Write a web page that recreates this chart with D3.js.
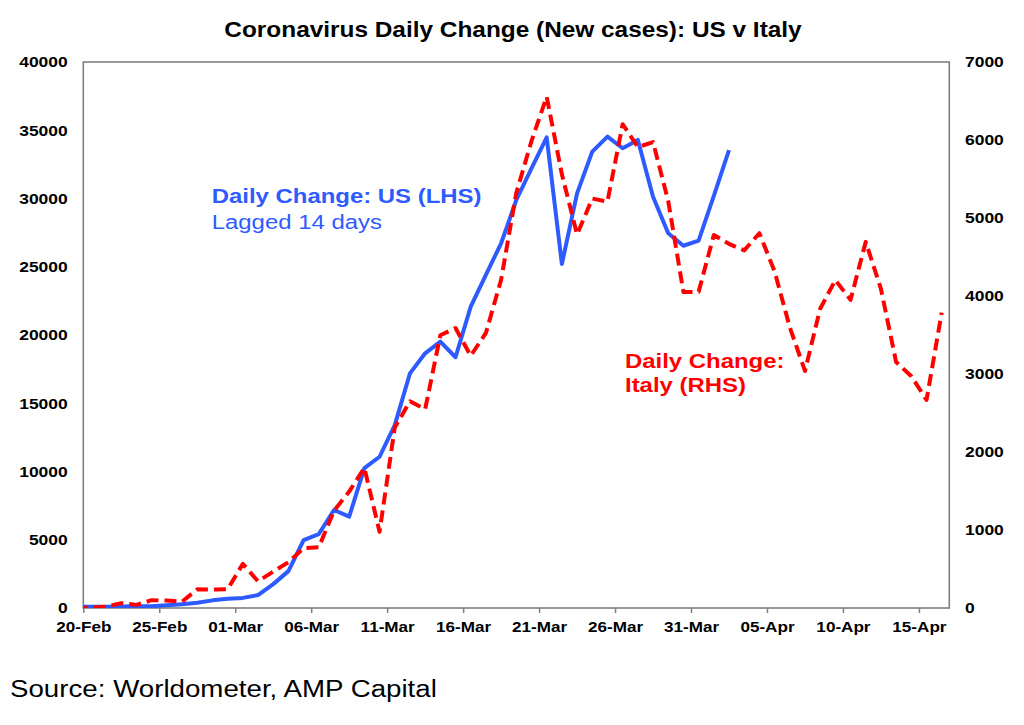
<!DOCTYPE html>
<html>
<head>
<meta charset="utf-8">
<script src="https://cdn.jsdelivr.net/npm/d3@7"></script>
<style>
  html, body { margin: 0; padding: 0; background: #fff; }
  svg { display: block; font-family: "Liberation Sans", Arial, sans-serif; }
</style>
</head>
<body>
<svg id="chart" width="1024" height="725"></svg>
<script>
// ---------------- DATA ----------------
// Daily series start one day before the visible window (clipped by plot area)
const seriesStart = "2020-02-19";
// Italy daily new cases (right axis), 19-Feb .. 16-Apr
const italyValues = [0, 3, 17, 62, 40, 100, 95, 80, 240, 238, 240,
  566, 342, 466, 587, 769, 778, 1247, 1492, 1797, 977,
  2313, 2651, 2547, 3497, 3590, 3233, 3526, 4207, 5322, 5986,
  6557, 5560, 4789, 5249, 5210, 6203, 5909, 5974, 5217, 4050, 4053,
  4782, 4668, 4585, 4805, 4316, 3599, 3039, 3836, 4204, 3951,
  4694, 4092, 3153, 2972, 2667, 3786];
// US daily new cases lagged 14 days (left axis), plotted 19-Feb .. 02-Apr
const usValues = [80, 90, 100, 110, 120, 130, 200, 280, 380, 560, 680,
  740, 950, 1750, 2700, 4980, 5420, 7180, 6690, 10250, 11080,
  13400, 17190, 18660, 19510, 18370, 22080, 24400, 26720, 29890, 32200,
  34480, 25200, 30380, 33430, 34530, 33680, 34290, 30130, 27450, 26540,
  26910, 30200, 33550];
const xDomain = ["2020-02-20", "2020-04-17"];
const xTickDates = ["2020-02-20", "2020-02-25", "2020-03-01", "2020-03-06", "2020-03-11",
  "2020-03-16", "2020-03-21", "2020-03-26", "2020-03-31", "2020-04-05", "2020-04-10", "2020-04-15"];
const xTickLabels = ["20-Feb", "25-Feb", "01-Mar", "06-Mar", "11-Mar", "16-Mar",
  "21-Mar", "26-Mar", "31-Mar", "05-Apr", "10-Apr", "15-Apr"];
const leftTicks = [0, 5000, 10000, 15000, 20000, 25000, 30000, 35000, 40000];
const rightTicks = [0, 1000, 2000, 3000, 4000, 5000, 6000, 7000];
const titleText = "Coronavirus Daily Change (New cases): US v Italy";
const usLabel = ["Daily Change: US (LHS)", "Lagged 14 days"];
const italyLabel = ["Daily Change:", "Italy (RHS)"];
const sourceText = "Source: Worldometer, AMP Capital";

// ---------------- LAYOUT ----------------
const SX = 1.14; // horizontal text stretch of the original picture
const plot = { left: 83.3, right: 949.3, top: 62, bottom: 608 };
const BLUE = "#2D5BFF", RED = "#FF0000", GREY = "#7f7f7f";

const svg = d3.select("#chart");
const parse = d3.utcParse("%Y-%m-%d");

const x = d3.scaleUtc().domain(xDomain.map(parse)).range([plot.left, plot.right]);
const yL = d3.scaleLinear().domain([0, 40000]).range([plot.bottom, plot.top]);
const yR = d3.scaleLinear().domain([0, 7000]).range([plot.bottom, plot.top]);

const start = parse(seriesStart);
// each daily value is plotted at the middle (noon) of its day
const pointDate = i => d3.utcHour.offset(d3.utcDay.offset(start, i), 12);

svg.append("defs").append("clipPath").attr("id", "plotClip")
  .append("rect")
  .attr("x", plot.left).attr("y", plot.top - 10)
  .attr("width", plot.right - plot.left).attr("height", plot.bottom - plot.top + 10);

// plot border
svg.append("rect")
  .attr("x", plot.left).attr("y", plot.top)
  .attr("width", plot.right - plot.left).attr("height", plot.bottom - plot.top)
  .attr("fill", "none").attr("stroke", GREY).attr("stroke-width", 1.6);

// bottom axis
const xAxis = d3.axisBottom(x)
  .tickValues(xTickDates.map(parse))
  .tickFormat((d, i) => xTickLabels[i])
  .tickSizeInner(5).tickSizeOuter(0).tickPadding(8);
const gx = svg.append("g").attr("transform", `translate(0,${plot.bottom})`).call(xAxis);
gx.select(".domain").remove();
gx.selectAll(".tick line").attr("stroke", GREY).attr("stroke-width", 1.5);
gx.selectAll(".tick text")
  .attr("fill", "#000").attr("font-size", 15).attr("font-weight", "bold")
  .attr("font-family", "Liberation Sans, Arial, sans-serif")
  .attr("transform", `scale(${SX},1)`);

// left axis
const gl = svg.append("g").attr("transform", `translate(${plot.left},0)`)
  .call(d3.axisLeft(yL).tickValues(leftTicks).tickFormat(d3.format("d")).tickSize(0).tickPadding(13.7));
gl.select(".domain").remove();
gl.selectAll(".tick text")
  .attr("fill", "#000").attr("font-size", 15.3).attr("font-weight", "bold")
  .attr("font-family", "Liberation Sans, Arial, sans-serif")
  .attr("transform", `scale(${SX},1)`);

// right axis
const gr = svg.append("g").attr("transform", `translate(${plot.right},0)`)
  .call(d3.axisRight(yR).tickValues(rightTicks).tickFormat(d3.format("d")).tickSize(0).tickPadding(13.8));
gr.select(".domain").remove();
gr.selectAll(".tick text")
  .attr("fill", "#000").attr("font-size", 15.3).attr("font-weight", "bold")
  .attr("font-family", "Liberation Sans, Arial, sans-serif")
  .attr("transform", `scale(${SX},1)`);

// lines
const lines = svg.append("g").attr("clip-path", "url(#plotClip)");
lines.append("path")
  .datum(usValues)
  .attr("fill", "none").attr("stroke", BLUE).attr("stroke-width", 4)
  .attr("stroke-linejoin", "round")
  .attr("d", d3.line().x((d, i) => x(pointDate(i))).y(d => yL(d)));
lines.append("path")
  .datum(italyValues)
  .attr("fill", "none").attr("stroke", RED).attr("stroke-width", 4)
  .attr("stroke-dasharray", "12,6")
  .attr("stroke-linejoin", "round")
  .attr("d", d3.line().x((d, i) => x(pointDate(i))).y(d => yR(d)));

// stretched text helper
function stext(xp, yp, txt, opts) {
  const g = svg.append("g").attr("transform", `translate(${xp},${yp}) scale(${SX},1)`);
  return g.append("text")
    .attr("x", 0).attr("y", 0)
    .attr("text-anchor", opts.anchor || "start")
    .attr("font-size", opts.size)
    .attr("font-weight", opts.weight || "normal")
    .attr("fill", opts.fill || "#000")
    .text(txt);
}

stext(513, 37, titleText, { anchor: "middle", size: 21.4, weight: "bold" });
stext(211.7, 203, usLabel[0], { size: 21, weight: "bold", fill: BLUE });
stext(211.7, 229, usLabel[1], { size: 21, fill: BLUE });
stext(625, 367.5, italyLabel[0], { size: 21, weight: "bold", fill: RED });
stext(625, 391.5, italyLabel[1], { size: 21, weight: "bold", fill: RED });
stext(10, 697, sourceText, { size: 24.3 });
</script>
</body>
</html>
